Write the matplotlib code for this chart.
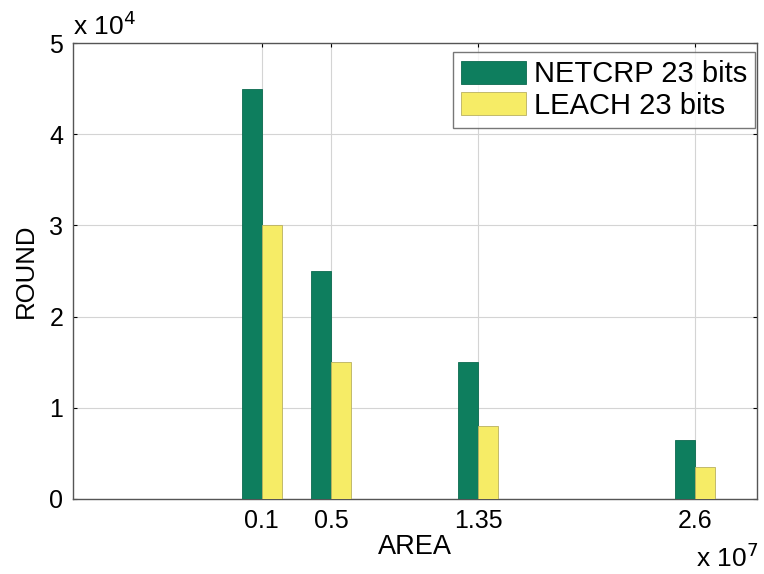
import matplotlib
matplotlib.use("Agg")
import matplotlib.pyplot as plt
import numpy as np

plt.rcParams['font.family'] = ['Liberation Sans', 'DejaVu Sans']

areas = [0.1, 0.5, 1.35, 2.6]          # x 10^7
area_labels = ['0.1', '0.5', '1.35', '2.6']
netcrp = [4.5, 2.5, 1.5, 0.65]        # x 10^4
leach = [3.0, 1.5, 0.8, 0.35]          # x 10^4
yticks = [0, 1, 2, 3, 4, 5]

green = '#0e7e5e'
yellow = '#f6ec66'

fig = plt.figure(figsize=(7.64, 5.74), dpi=100)
ax = fig.add_axes([0.0955, 0.131, 0.8955, 0.794])

w = 0.116
x = np.array(areas)
ax.bar(x - w/2, netcrp, width=w, color=green, edgecolor='#0b6a4f', linewidth=0.6,
       label='NETCRP 23 bits', zorder=3)
ax.bar(x + w/2, leach, width=w, color=yellow, edgecolor='#b9b060', linewidth=0.6,
       label='LEACH 23 bits', zorder=3)

ax.set_xlim(-0.99, 2.96)
ax.set_ylim(0, 5)
ax.set_xticks(areas)
ax.set_xticklabels(area_labels)
ax.set_yticks(yticks)
ax.set_yticklabels([str(t) for t in yticks])
ax.grid(True, color='#d4d4d4', linewidth=0.8, zorder=0)
ax.tick_params(axis='both', labelsize=18, length=3, direction='in',
               top=True, right=True, pad=7)
for s in ax.spines.values():
    s.set_color('#555555')
    s.set_linewidth(1.0)

ax.set_xlabel('AREA', fontsize=19.5, labelpad=1)
ax.set_ylabel('ROUND', fontsize=18.5, labelpad=8)

fig.text(0.096, 0.939, r'x 10$^4$', fontsize=19, ha='left', va='baseline')
fig.text(0.993, 0.012, r'x 10$^7$', fontsize=19, ha='right', va='baseline')

leg = ax.legend(loc='upper right', bbox_to_anchor=(0.997, 0.98), fontsize=21,
                frameon=True, fancybox=False, edgecolor='#555555',
                handlelength=2.23, handleheight=0.86, borderaxespad=0.0,
                labelspacing=0.12, handletextpad=0.25, borderpad=0.28)
leg.get_frame().set_linewidth(1.0)

fig.savefig('out.png', dpi=100)
